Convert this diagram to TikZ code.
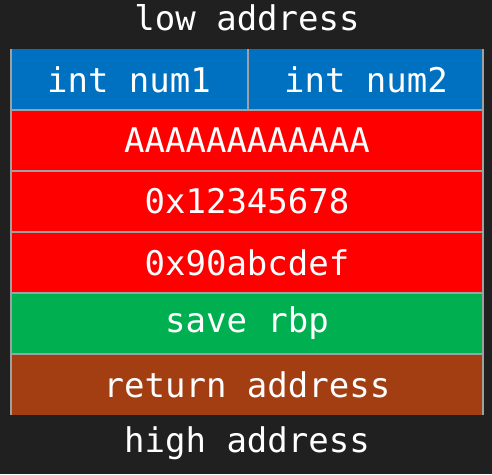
\documentclass[tikz,border=0pt]{standalone}
\usepackage{fontspec}
\setmonofont{DejaVu Sans Mono}
\definecolor{bgc}{HTML}{202020}
\definecolor{blu}{HTML}{0070C0}
\definecolor{rd}{HTML}{FF0000}
\definecolor{grn}{HTML}{00B050}
\definecolor{brn}{HTML}{A33D12}
\definecolor{sep}{HTML}{A0A0A0}
\begin{document}
\begin{tikzpicture}[x=1pt,y=-1pt,
  cell/.style={inner sep=0pt, outer sep=0pt, minimum height=61pt, text=white,
    font=\ttfamily\fontsize{34}{37}\selectfont},
  lbl/.style={text=white, inner sep=0pt, font=\ttfamily\fontsize{34}{37}\selectfont},
  sepline/.style={draw=sep, line width=2pt}]
\useasboundingbox[fill=bgc] (0,0) rectangle (492,474);
\node[cell, fill=blu, minimum width=237.5pt] (n1) at (129,79.5) {int num1};
\node[cell, fill=blu, minimum width=236.5pt] (n2) at (366,79.5) {int num2};
\node[cell, fill=rd, minimum width=474pt] (a) at (247,140.5) {AAAAAAAAAAAA};
\node[cell, fill=rd, minimum width=474pt] (b) at (247,201.5) {0x12345678};
\node[cell, fill=rd, minimum width=474pt] (c) at (247,262.5) {0x90abcdef};
\node[cell, fill=grn, minimum width=474pt] (d) at (247,323.5) {save rbp};
\node[cell, fill=brn, minimum width=474pt] (e) at (247,384.5) {return address};
\node[lbl] (lo) at (247,18) {low address};
\node[lbl] (hi) at (247,443) {high address};
\draw[sepline] (11,49) -- (11,415);
\draw[sepline] (483,49) -- (483,415);
\draw[sepline] (247.5,49) -- (247.5,110);
\foreach \yy in {110,171,232,293,354} \draw[sepline] (10,\yy) -- (484,\yy);
\end{tikzpicture}
\end{document}
